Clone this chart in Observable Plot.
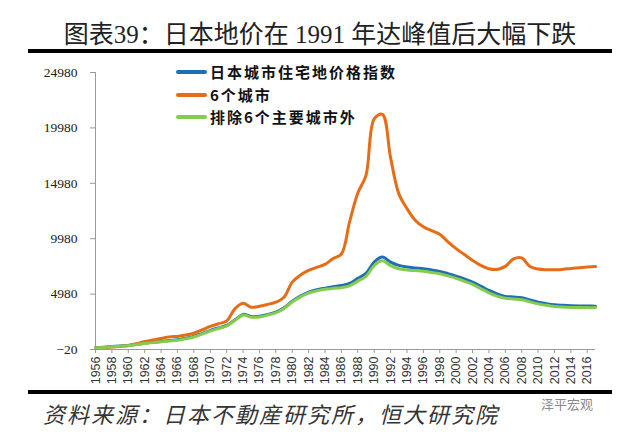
<!DOCTYPE html>
<html>
<head>
<meta charset="utf-8">
<script src="https://cdn.jsdelivr.net/npm/d3@7"></script>
<script src="https://cdn.jsdelivr.net/npm/@observablehq/plot@0.6"></script>
<style>
  html, body { margin: 0; padding: 0; background: #fff; }
  body { width: 640px; height: 448px; position: relative; overflow: hidden; }
  #title { position: absolute; top: 20px; left: 0; width: 640px; text-align: center;
    font-family: "Liberation Serif", "Noto Sans CJK SC", serif; font-size: 25px; line-height: 30px; color: #222; }
  .bar { position: absolute; left: 28px; width: 584px; height: 4px; background: #000; }
  #chart { position: absolute; left: 0; top: 55px; }
  #legend { position: absolute; left: 176px; top: 61px; font-family: "Noto Sans CJK SC", sans-serif;
    font-weight: bold; font-size: 15px; letter-spacing: 2px; color: #111; }
  .row { height: 22.5px; line-height: 22.5px; display: flex; align-items: center; white-space: nowrap; }
  .sw { width: 31px; height: 4px; border-radius: 2px; margin-right: 3px; flex: none; }
  #caption { position: absolute; left: 43px; top: 399px; font-family: "Noto Sans CJK SC", sans-serif;
    font-style: italic; font-size: 22px; letter-spacing: 2px; line-height: 28px; color: #333; }
  #mark { position: absolute; left: 541px; top: 396px; font-family: "Noto Sans CJK SC", sans-serif;
    font-size: 13px; color: #8a8a8a; line-height: 16px; }
</style>
</head>
<body>
<div id="title">图表39：日本地价在 1991 年达峰值后大幅下跌</div>
<div class="bar" style="top:49px"></div>
<div id="chart"></div>
<div id="legend"></div>
<div class="bar" style="top:390px"></div>
<div id="caption">资料来源：日本不動産研究所，恒大研究院</div>
<div id="mark">泽平宏观</div>
<script>
const years = [1956,1957,1958,1959,1960,1961,1962,1963,1964,1965,1966,1967,1968,1969,1970,1971,1972,1973,1974,1975,
  1976,1977,1978,1979,1980,1981,1982,1983,1984,1985,1986,1987,1988,1989,1990,1991,1992,1993,1994,1995,
  1996,1997,1998,1999,2000,2001,2002,2003,2004,2005,2006,2007,2008,2009,2010,2011,2012,2013,2014,2015,2016,2017];

const seriesNames = ["日本城市住宅地价格指数", "6个城市", "排除6个主要城市外"];
const seriesColors = ["#1f6db3", "#e66c17", "#84cc4e"];

const allCities = [130,190,250,300,340,450,550,630,700,790,860,990,1160,1420,1700,1930,2150,2650,3150,2960,
  2980,3150,3350,3750,4340,4800,5160,5380,5520,5650,5750,5950,6400,6850,7870,8320,7870,7570,7420,7340,
  7270,7150,7030,6830,6600,6350,6060,5700,5310,5000,4770,4720,4650,4450,4250,4120,4020,3970,3930,3910,3900,3890];

const sixCities = [100,150,200,260,340,500,700,850,970,1120,1160,1280,1450,1750,2060,2300,2550,3650,4150,3800,
  3880,4050,4250,4700,6060,6700,7120,7400,7660,8200,8600,11500,14100,15700,20800,21200,17300,14050,12700,11650,
  11050,10700,10380,9700,9080,8550,8020,7570,7270,7210,7480,8150,8250,7480,7240,7180,7180,7210,7300,7360,7420,7460];

const otherCities = [110,170,230,280,320,420,520,600,670,750,820,950,1110,1370,1650,1880,2100,2600,3080,2900,
  2920,3090,3290,3690,4270,4730,5080,5290,5420,5500,5560,5720,6150,6580,7560,7980,7550,7270,7160,7100,
  7040,6930,6820,6620,6400,6140,5850,5480,5100,4800,4600,4540,4470,4280,4100,3970,3870,3810,3780,3770,3760,3760];

const xTicks = [1956,1958,1960,1962,1964,1966,1968,1970,1972,1974,1976,1978,1980,1982,1984,1986,1988,1990,
  1992,1994,1996,1998,2000,2002,2004,2006,2008,2010,2012,2014,2016];
const yTicks = [-20, 4980, 9980, 14980, 19980, 24980];

const table = (vals, name) => years.map((yr, i) => ({year: yr, value: vals[i], series: name}));
const dBlue = table(allCities, seriesNames[0]);
const dOrange = table(sixCities, seriesNames[1]);
const dGreen = table(otherCities, seriesNames[2]);

const lineOpts = {x: "year", y: "value", stroke: "series", strokeWidth: 3, curve: "catmull-rom",
  strokeLinejoin: "round", strokeLinecap: "round"};

const chart = Plot.plot({
  width: 640,
  height: 340,
  marginLeft: 95,
  marginRight: 45,
  marginTop: 17,
  marginBottom: 46,
  style: {background: "transparent", overflow: "visible"},
  x: {domain: [1956, 2017], ticks: xTicks, tickFormat: d => String(d), label: null,
      tickSize: 4, tickPadding: 3, tickRotate: -90},
  y: {domain: [-20, 24980], ticks: yTicks, tickFormat: d => String(d).replace("-", "−"), label: null,
      tickSize: 5, tickPadding: 13},
  color: {domain: seriesNames, range: seriesColors},
  marks: [
    Plot.ruleX([1956], {y1: -20, y2: 24980, stroke: "#9a9a9a", strokeWidth: 1}),
    Plot.ruleY([-20], {x1: 1956, x2: 2017, stroke: "#9a9a9a", strokeWidth: 1}),
    Plot.axisX({ticks: xTicks, tickFormat: d => String(d), tickSize: 4, tickPadding: 3, tickRotate: -90,
      stroke: "#9a9a9a", fill: "#333", fontSize: 12.5, fontFamily: "Liberation Sans, Arial, sans-serif", label: null}),
    Plot.axisY({ticks: yTicks, tickFormat: d => String(d).replace("-", "−"), tickSize: 5, tickPadding: 13,
      stroke: "#9a9a9a", fill: "#222", fontSize: 13.5, fontFamily: "Liberation Serif, Times New Roman, serif", label: null}),
    Plot.line(dBlue, lineOpts),
    Plot.line(dOrange, lineOpts),
    Plot.line(dGreen, lineOpts)
  ]
});
document.getElementById("chart").appendChild(chart);

const legend = document.getElementById("legend");
seriesNames.forEach((name, i) => {
  const row = document.createElement("div");
  row.className = "row";
  const sw = document.createElement("div");
  sw.className = "sw";
  sw.style.background = seriesColors[i];
  const t = document.createElement("span");
  t.textContent = name;
  row.appendChild(sw);
  row.appendChild(t);
  legend.appendChild(row);
});
</script>
</body>
</html>
